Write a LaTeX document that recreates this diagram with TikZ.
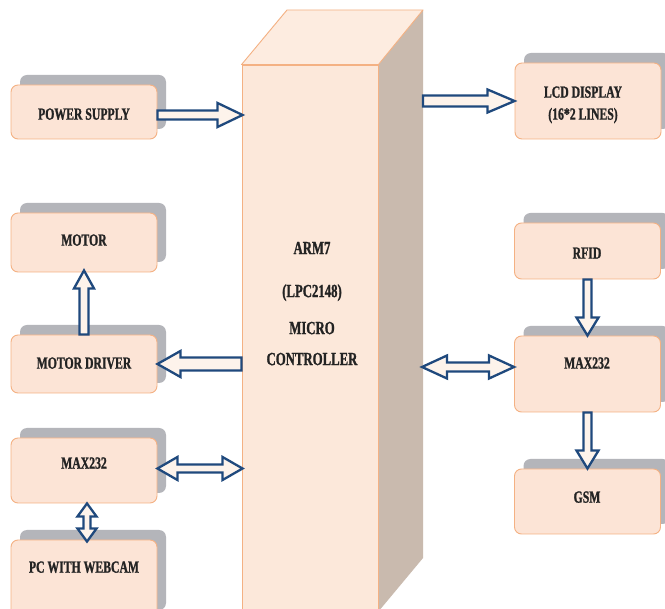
\documentclass[tikz,border=0pt]{standalone}
\usepackage{fontspec}
\setmainfont{Liberation Serif}[FakeStretch=0.69,BoldFont={Liberation Serif Bold},BoldFeatures={FakeBold=1.2}]
\usetikzlibrary{calc,shadows}
\definecolor{boxfill}{RGB}{252,228,214}
\definecolor{boxborder}{RGB}{244,177,131}
\definecolor{frontfill}{RGB}{252,232,218}
\definecolor{topfill}{RGB}{253,236,224}
\definecolor{sidefill}{RGB}{201,186,174}
\definecolor{shadowgray}{RGB}{180,181,186}
\definecolor{arrowline}{RGB}{31,73,125}
\definecolor{arrowfill}{RGB}{253,243,235}
\definecolor{textcol}{RGB}{35,35,35}
% single block arrow: from, to, half shaft, half head, head length
\newcommand\sarrow[5]{%
 \path[blockarrow] let \p1=(#1), \p2=(#2), \n1={veclen(\x2-\x1,\y2-\y1)}, \n2={(\x2-\x1)/\n1}, \n3={(\y2-\y1)/\n1} in
 ({\x1-#3*\n3},{\y1+#3*\n2}) -- ({\x2-#5*\n2-#3*\n3},{\y2-#5*\n3+#3*\n2}) -- ({\x2-#5*\n2-#4*\n3},{\y2-#5*\n3+#4*\n2}) -- (\p2) -- ({\x2-#5*\n2+#4*\n3},{\y2-#5*\n3-#4*\n2}) -- ({\x2-#5*\n2+#3*\n3},{\y2-#5*\n3-#3*\n2}) -- ({\x1+#3*\n3},{\y1-#3*\n2}) -- cycle;}
% double block arrow
\newcommand\darrow[5]{%
 \path[blockarrow] let \p1=(#1), \p2=(#2), \n1={veclen(\x2-\x1,\y2-\y1)}, \n2={(\x2-\x1)/\n1}, \n3={(\y2-\y1)/\n1} in
 (\p1) -- ({\x1+#5*\n2-#4*\n3},{\y1+#5*\n3+#4*\n2}) -- ({\x1+#5*\n2-#3*\n3},{\y1+#5*\n3+#3*\n2}) -- ({\x2-#5*\n2-#3*\n3},{\y2-#5*\n3+#3*\n2}) -- ({\x2-#5*\n2-#4*\n3},{\y2-#5*\n3+#4*\n2}) -- (\p2) -- ({\x2-#5*\n2+#4*\n3},{\y2-#5*\n3-#4*\n2}) -- ({\x2-#5*\n2+#3*\n3},{\y2-#5*\n3-#3*\n2}) -- ({\x1+#5*\n2+#3*\n3},{\y1+#5*\n3-#3*\n2}) -- ({\x1+#5*\n2+#4*\n3},{\y1+#5*\n3-#4*\n2}) -- cycle;}
\begin{document}
\begin{tikzpicture}[x=1pt,y=-1pt,
  blockarrow/.style={draw=arrowline,fill=arrowfill,line width=2.3pt,line join=miter},
  box/.style={rectangle,rounded corners=7pt,draw=boxborder,line width=0.9pt,fill=boxfill,
    minimum width=146pt,inner sep=0pt,
    drop shadow={shadow xshift=9pt,shadow yshift=10pt,fill=shadowgray,opacity=1}},
  lbl/.style={text=textcol,font=\bfseries\fontsize{17}{20}\selectfont,text height=11.3pt,text depth=0pt,inner sep=0pt,align=center},
  mlbl/.style={text=textcol,font=\bfseries\fontsize{18.5}{22}\selectfont,text height=12.2pt,text depth=0pt,inner sep=0pt}]
\useasboundingbox (0,0) rectangle (665,609);
\fill[white] (0,0) rectangle (665,609);
% main block (3D)
\node[rectangle,draw=boxborder,line width=0.9pt,fill=frontfill,minimum width=136pt,minimum height=550pt,inner sep=0pt] (mc) at (310,340) {};
\coordinate (rf) at (423,300);
\fill[sidefill] (mc.north east) -- (423,10) -- (423,558) -- (378,612) -- cycle;
\filldraw[fill=topfill,draw=boxborder,line width=0.9pt,line join=round] (mc.north west) -- (287,10) -- (423,10) -- (mc.north east) -- cycle;
\draw[boxborder,line width=0.9pt] (mc.north east) -- (mc.south east);
\node[mlbl] (t1) at (312,248) {ARM7};
\node[mlbl] (t2) at (312,291) {(LPC2148)};
\node[mlbl] (t3) at (312,328) {MICRO};
\node[mlbl] (t4) at (312,359) {CONTROLLER};
% boxes
\node[box,minimum height=54pt] (ps) at (84,112) {};
\node[lbl] (tps) at (84,114) {POWER SUPPLY};
\node[box,minimum height=76pt] (lcd) at (588,101) {};
\node[lbl] (tlcd1) at (583,92) {LCD DISPLAY};
\node[lbl] (tlcd2) at (583,114) {(16*2 LINES)};
\node[box,minimum height=59pt] (mot) at (84,242.5) {};
\node[lbl] (tmot) at (84,240) {MOTOR};
\node[box,minimum height=58pt] (md) at (84,364) {};
\node[lbl] (tmd) at (84,363) {MOTOR DRIVER};
\node[box,minimum height=56pt] (rfid) at (587.5,251) {};
\node[lbl] (trfid) at (587,253) {RFID};
\node[box,minimum height=76pt] (mxr) at (587.5,374) {};
\node[lbl] (tmxr) at (587,363) {MAX232};
\node[box,minimum height=65pt] (gsm) at (587.5,501.5) {};
\node[lbl] (tgsm) at (587,497) {GSM};
\node[box,minimum height=65pt] (mxl) at (84,470.5) {};
\node[lbl] (tmxl) at (84,463) {MAX232};
\node[box,minimum height=80pt] (pc) at (84,580) {};
\node[lbl] (tpc) at (84,567) {PC WITH WEBCAM};
% arrows
\sarrow{$(ps.east)+(0,3)$}{$(mc.west |- ps.east)+(1,3)$}{4.5}{12}{25}
\sarrow{rf |- lcd.west}{lcd.west}{5.5}{11.5}{27}
\sarrow{mc.west |- md.east}{md.east}{6.5}{13}{23}
\sarrow{md.north}{$(mot.south)+(0,-2)$}{4.5}{10}{18}
\sarrow{rfid.south}{mxr.north}{4}{11}{18}
\sarrow{mxr.south}{gsm.north}{4}{11}{18}
\darrow{$(rf |- mxr.west)+(-1,-7)$}{$(mxr.west)+(0,-7)$}{4.5}{11.5}{25}
\darrow{$(mxl.east)+(0,-2)$}{$(mc.west |- mxl.east)+(1,-2)$}{4}{11.5}{20}
\darrow{$(mxl.south)+(3,0)$}{$(pc.north)+(3,2)$}{3.5}{9.5}{13}
\end{tikzpicture}
\end{document}
